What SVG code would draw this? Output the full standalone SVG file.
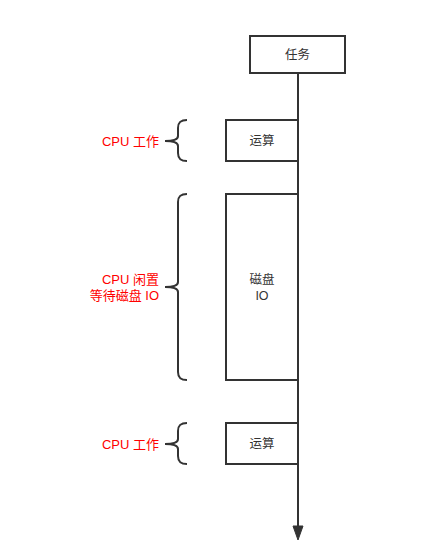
<svg xmlns="http://www.w3.org/2000/svg" width="433" height="556" viewBox="0 0 433 556">
<style>
.box{fill:#fff;stroke:#333;stroke-width:2}
.t{font-family:"Liberation Sans","Noto Sans CJK SC",sans-serif;font-size:12.5px;fill:#333;text-anchor:middle}
.r{font-family:"Liberation Sans","Noto Sans CJK SC",sans-serif;font-size:13px;fill:#ff0000;text-anchor:end}
.br{fill:none;stroke:#333;stroke-width:2}
</style>
<rect width="433" height="556" fill="#fff"/>
<g id="connectors">
<line x1="298" y1="73" x2="298" y2="530" stroke="#333" stroke-width="2"/>
<path d="M293,526 L298,540 L303,526 Z" fill="#333" stroke="#333" stroke-width="1"/>
</g>
<g id="task"><rect class="box" x="250" y="36" width="95" height="37"/><text class="t" x="297.5" y="59">任务</text></g>
<g id="calc1"><rect class="box" x="226" y="120" width="72" height="41"/><text class="t" x="262" y="145">运算</text></g>
<g id="diskio"><rect class="box" x="226" y="194" width="72" height="186"/><text class="t" x="262" y="284">磁盘</text><text class="t" x="262" y="300">IO</text></g>
<g id="calc2"><rect class="box" x="226" y="423" width="72" height="41"/><text class="t" x="262" y="448">运算</text></g>
<g id="brace1">
<path class="br" d="M187,120 C181,120 178,122 178,128 L178,136 C178,139 175,141 165,141 C175,141 178,143 178,146 L178,153 C178,159 181,161 187,161"/>
<text class="r" x="159" y="146">CPU 工作</text>
</g>
<g id="brace2">
<path class="br" d="M187,194 C181,194 178,196 178,202 L178,282 C178,285 175,287 165,287 C175,287 178,289 178,292 L178,372 C178,378 181,380 187,380"/>
<text class="r" x="159" y="284">CPU 闲置</text>
<text class="r" x="159" y="300">等待磁盘 IO</text>
</g>
<g id="brace3">
<path class="br" d="M187,423 C181,423 178,425 178,431 L178,439 C178,442 175,444 165,444 C175,444 178,446 178,449 L178,456 C178,462 181,464 187,464"/>
<text class="r" x="159" y="449">CPU 工作</text>
</g>
</svg>
